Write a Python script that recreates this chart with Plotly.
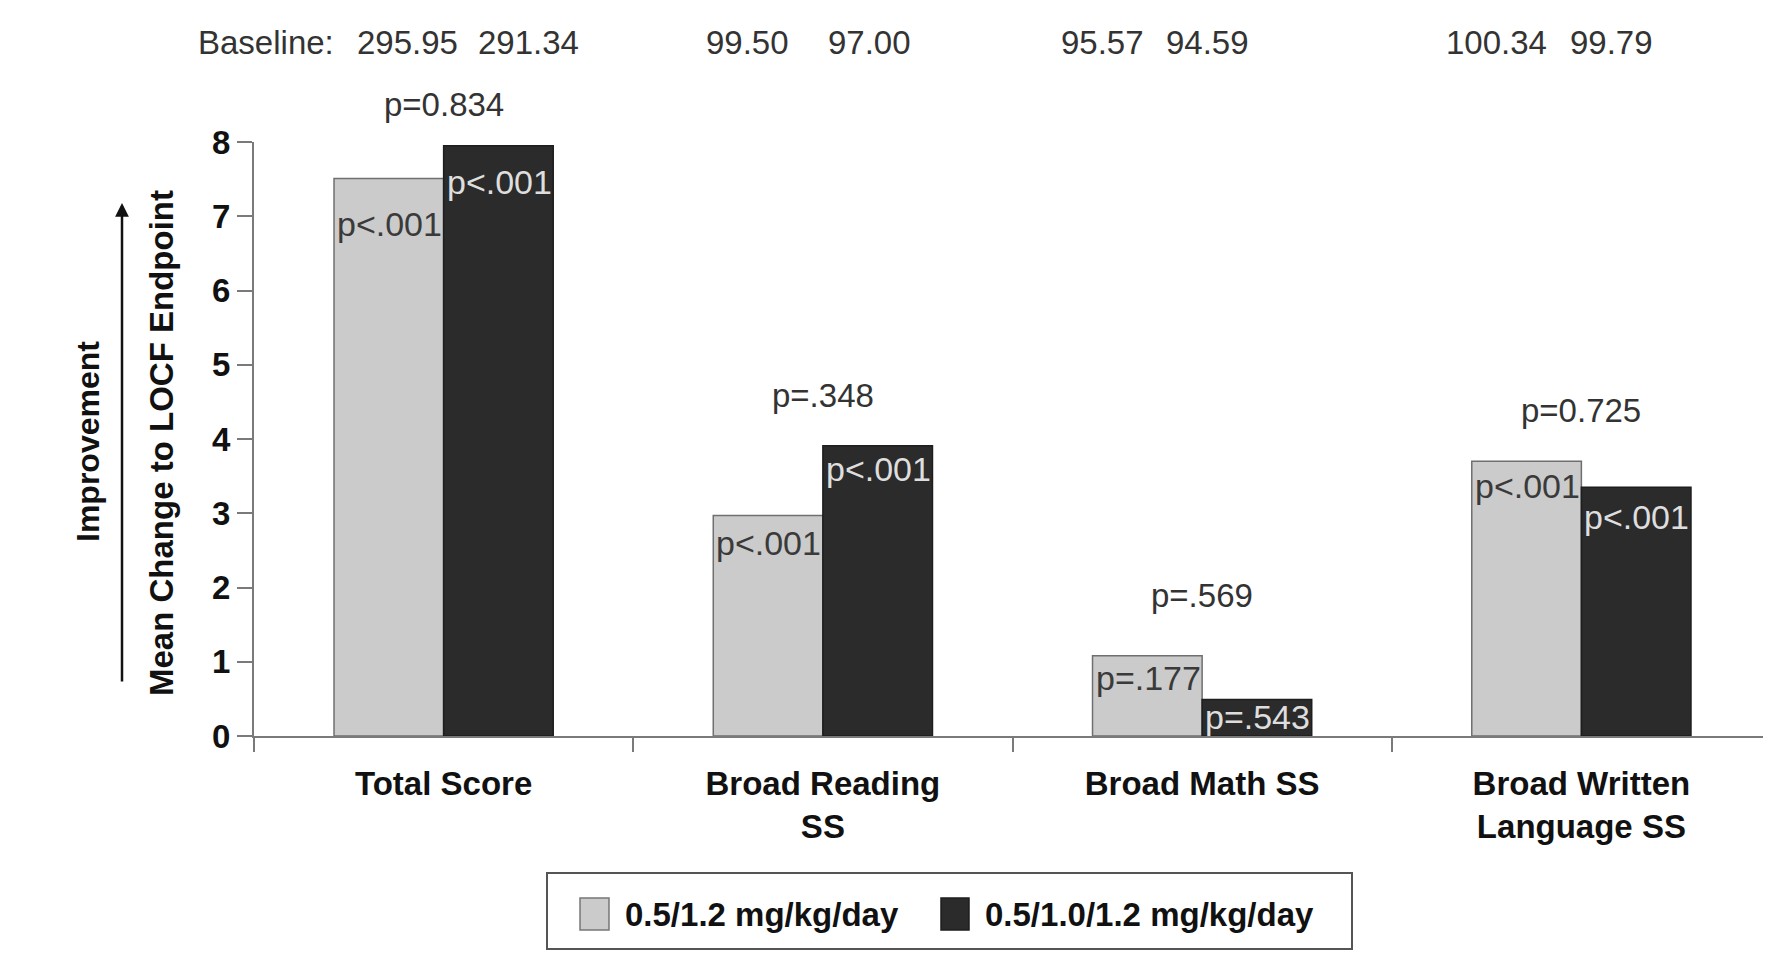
import plotly.graph_objects as go

# ---------------- data ----------------
categories = ["Total Score", "Broad Reading<br>SS", "Broad Math SS", "Broad Written<br>Language SS"]
series_names = ["0.5/1.2 mg/kg/day", "0.5/1.0/1.2 mg/kg/day"]
values_a = [7.51, 2.97, 1.08, 3.70]      # 0.5/1.2 mg/kg/day
values_b = [7.95, 3.91, 0.49, 3.35]      # 0.5/1.0/1.2 mg/kg/day
pvals_a = ["p<.001", "p<.001", "p=.177", "p<.001"]
pvals_b = ["p<.001", "p<.001", "p=.543", "p<.001"]
pvals_between = ["p=0.834", "p=.348", "p=.569", "p=0.725"]
pvals_between_y = [8.50, 4.59, 1.89, 4.38]
baseline_a = ["295.95", "99.50", "95.57", "100.34"]
baseline_b = ["291.34", "97.00", "94.59", "99.79"]
y_ticks = [0, 1, 2, 3, 4, 5, 6, 7, 8]
y_range = [0, 8]

# ---------------- style ----------------
OFF = 8                      # page body margin
W, H = 1771 - OFF, 963 - 2 * OFF
ML, MR, MT = 254 - OFF, 0, 142 - OFF
MB = H - (736 - OFF)
PW, PH = W - ML - MR, H - MT - MB
LIGHT, DARK = "#cbcbcb", "#2b2b2b"
AXIS = "#7a7a7a"
FONT = "Liberation Sans, Arial, sans-serif"
FS = 33
FSB = 33
BW = 0.289  # bar width (category units)

def px_x(px):   # page pixel -> paper x
    return (px - OFF - ML) / PW

def px_y(py):   # page pixel -> paper y
    return (H - MB - (py - OFF)) / PH

def val_to_paper(v):
    return (v - y_range[0]) / (y_range[1] - y_range[0])

fig = go.Figure()
fig.add_trace(go.Bar(
    x=categories, y=values_a, name=series_names[0],
    width=BW, offset=-BW,
    marker=dict(color=LIGHT, line=dict(color="#6f6f6f", width=1.5)),
    showlegend=False,
))
fig.add_trace(go.Bar(
    x=categories, y=values_b, name=series_names[1],
    width=BW, offset=0,
    marker=dict(color=DARK, line=dict(color="#1e1e1e", width=1.5)),
    showlegend=False,
))

ann = []
# inside-bar p-values (left aligned at bar's left edge, a little below its top)
shift_a = [-25, -7, -1, -4]
shift_b = [-15, -2, 4, -9]
for i in range(len(categories)):
    ann.append(dict(x=i - BW, y=values_a[i], xref="x", yref="y", text=pvals_a[i],
                    showarrow=False, xanchor="left", yanchor="top", xshift=1, yshift=shift_a[i],
                    font=dict(family=FONT, size=34, color="#3a3a3a")))
    ann.append(dict(x=i, y=values_b[i], xref="x", yref="y", text=pvals_b[i],
                    showarrow=False, xanchor="left", yanchor="top", xshift=1, yshift=shift_b[i],
                    font=dict(family=FONT, size=34, color="#dedede")))
    ann.append(dict(x=i, y=val_to_paper(pvals_between_y[i]), xref="x", yref="paper",
                    text=pvals_between[i], showarrow=False, xanchor="center", yanchor="middle",
                    font=dict(family=FONT, size=FS, color="#333333")))

# baseline values along the top
shift_ba = [-36, -75, -100, -85]
shift_bb = [85, 47, 5, 30]
yb = px_y(43)
for i in range(len(categories)):
    ann.append(dict(x=i, y=yb, xref="x", yref="paper", text=baseline_a[i], showarrow=False,
                    xanchor="center", yanchor="middle", xshift=shift_ba[i],
                    font=dict(family=FONT, size=FS, color="#333333")))
    ann.append(dict(x=i, y=yb, xref="x", yref="paper", text=baseline_b[i], showarrow=False,
                    xanchor="center", yanchor="middle", xshift=shift_bb[i],
                    font=dict(family=FONT, size=FS, color="#333333")))
ann.append(dict(x=px_x(336), y=yb, xref="paper", yref="paper", text="Baseline:", showarrow=False,
                xanchor="right", yanchor="middle",
                font=dict(family=FONT, size=FS, color="#333333")))

# y-axis titles and arrow
ann.append(dict(x=px_x(161), y=px_y(443), xref="paper", yref="paper",
                text="Mean Change to LOCF Endpoint", textangle=-90, showarrow=False,
                xanchor="center", yanchor="middle",
                font=dict(family=FONT, size=FSB, color="#111111", weight="bold")))
ann.append(dict(x=px_x(88), y=px_y(442), xref="paper", yref="paper",
                text="Improvement", textangle=-90, showarrow=False,
                xanchor="center", yanchor="middle",
                font=dict(family=FONT, size=FSB - 1, color="#111111", weight="bold")))
ann.append(dict(x=px_x(122), y=px_y(203), xref="paper", yref="paper", text="",
                showarrow=True, ax=0, ay=480, axref="pixel", ayref="pixel",
                arrowhead=2, arrowsize=1.1, arrowwidth=2.5, arrowcolor="#111111", standoff=0))

# manual legend
lx0, lx1, ly0, ly1 = 547, 1352, 873, 949
ty = 914
ann.append(dict(x=px_x(623), y=px_y(ty), xref="paper", yref="paper", text=series_names[0],
                showarrow=False, xanchor="left", yanchor="middle",
                font=dict(family=FONT, size=FSB, color="#111111", weight="bold")))
ann.append(dict(x=px_x(983), y=px_y(ty), xref="paper", yref="paper", text=series_names[1],
                showarrow=False, xanchor="left", yanchor="middle",
                font=dict(family=FONT, size=FSB, color="#111111", weight="bold")))

shapes = [
    dict(type="rect", xref="paper", yref="paper", x0=px_x(lx0), x1=px_x(lx1), y0=px_y(ly1), y1=px_y(ly0),
         line=dict(color="#555555", width=2), fillcolor="rgba(0,0,0,0)"),
    dict(type="rect", xref="paper", yref="paper", x0=px_x(580), x1=px_x(609), y0=px_y(930), y1=px_y(898),
         line=dict(color="#777777", width=1.5), fillcolor=LIGHT),
    dict(type="rect", xref="paper", yref="paper", x0=px_x(941), x1=px_x(969), y0=px_y(930), y1=px_y(898),
         line=dict(color="#1e1e1e", width=1.5), fillcolor=DARK),
]

fig.update_layout(
    width=W, height=H,
    margin=dict(l=ML, r=MR, t=MT, b=MB, pad=0),
    paper_bgcolor="white", plot_bgcolor="white",
    barmode="overlay",
    showlegend=False,
    annotations=ann,
    shapes=shapes,
    font=dict(family=FONT, size=FS, color="#111111"),
    xaxis=dict(type="category", categoryorder="array", categoryarray=categories,
               range=[-0.5, len(categories) - 0.5],
               tickson="boundaries", ticks="outside", ticklen=14, tickwidth=2, tickcolor=AXIS,
               showline=True, linecolor=AXIS, linewidth=2, showgrid=False, zeroline=False,
               tickfont=dict(family=FONT, size=FSB, color="#111111", weight="bold"),
               ticklabelstandoff=17),
    yaxis=dict(range=y_range, tickvals=y_ticks, ticks="outside", ticklen=15, tickwidth=2,
               tickcolor=AXIS, showline=True, linecolor=AXIS, linewidth=2,
               showgrid=False, zeroline=False,
               tickfont=dict(family=FONT, size=FSB, color="#111111", weight="bold")),
)

fig.write_html("out.html")
